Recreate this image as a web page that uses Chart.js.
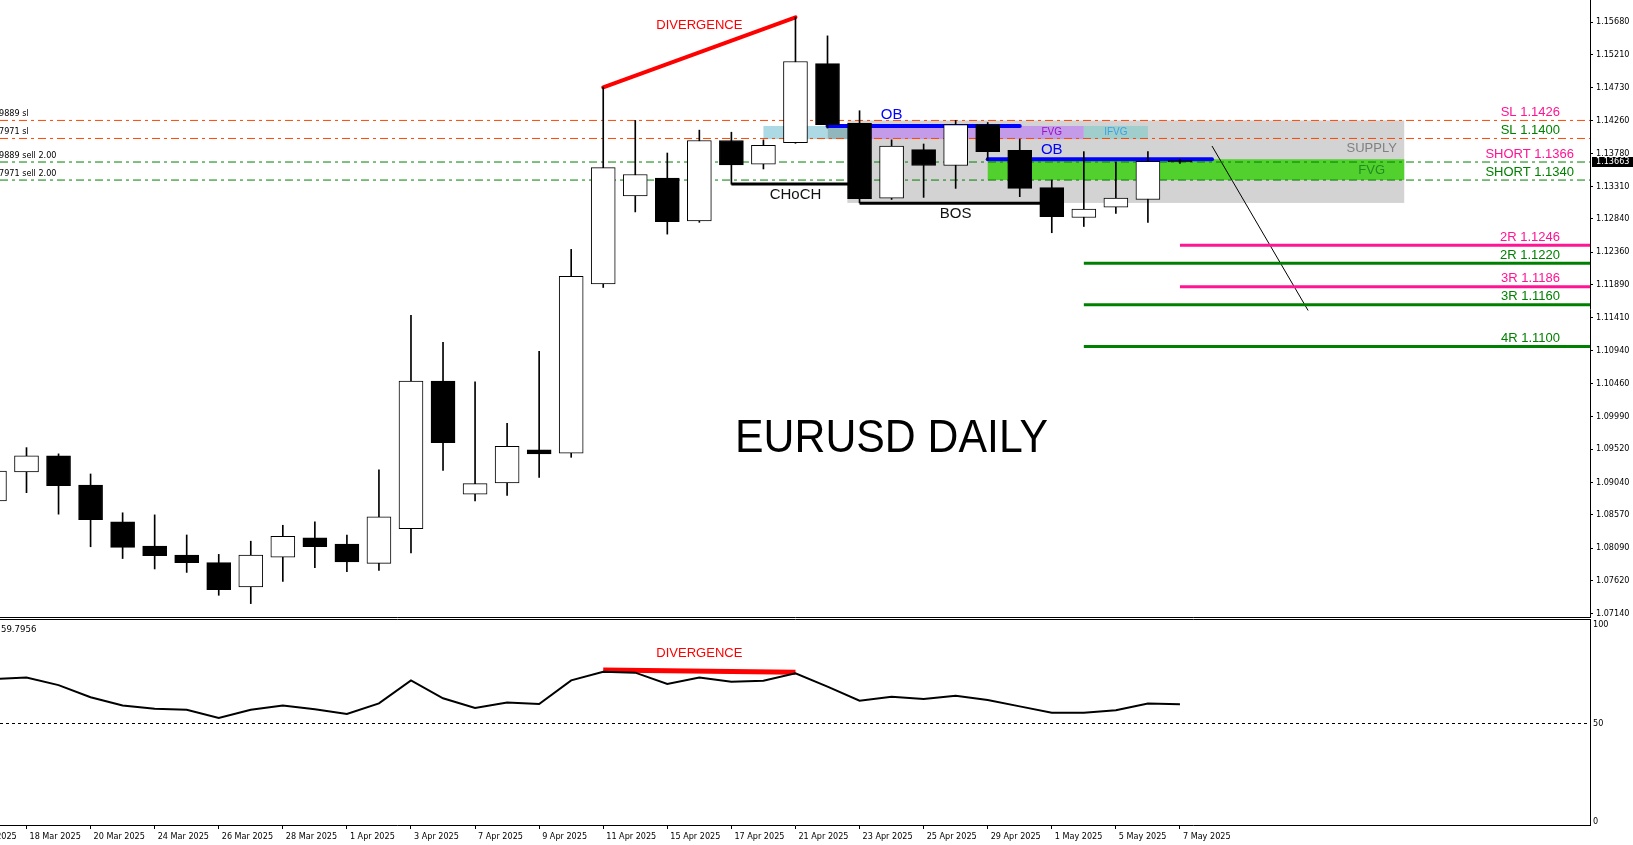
<!DOCTYPE html>
<html lang="en">
<head>
<meta charset="UTF-8">
<title>EURUSD Daily</title>
<style>
  html, body { margin: 0; padding: 0; background: #fff; overflow: hidden; }
  #wrap { position: relative; width: 1633px; height: 845px; }
  #priceChart { position: absolute; left: 0; top: 0; }
  #rsiChart { position: absolute; left: 0; top: 618px; }
</style>
</head>
<body>
<div id="wrap">
  <canvas id="priceChart" width="1633" height="618"></canvas>
  <canvas id="rsiChart" width="1633" height="227"></canvas>
</div>

<script src="https://cdn.jsdelivr.net/npm/chart.js"></script>
<script>
  // daily bars, 17 Mar .. 7 May 2025 (x value = position in this list)
  const days = ['17 Mar', '18 Mar', '19 Mar', '20 Mar', '21 Mar', '24 Mar', '25 Mar', '26 Mar', '27 Mar', '28 Mar',
    '31 Mar', '1 Apr', '2 Apr', '3 Apr', '4 Apr', '7 Apr', '8 Apr', '9 Apr', '10 Apr', '11 Apr',
    '14 Apr', '15 Apr', '16 Apr', '17 Apr', '18 Apr', '21 Apr', '22 Apr', '23 Apr', '24 Apr', '25 Apr',
    '28 Apr', '29 Apr', '30 Apr', '1 May', '2 May', '5 May', '6 May', '7 May'];
  const opens = [1.0877, 1.0919, 1.0942, 1.0900, 1.0847, 1.0812, 1.0799, 1.0788, 1.0753, 1.0796,
    1.0824, 1.0815, 1.0787, 1.0837, 1.1050, 1.0887, 1.0903, 1.0951, 1.0946, 1.1190,
    1.1317, 1.1343, 1.1281, 1.1397, 1.1363, 1.1394, 1.1508, 1.1422, 1.1314, 1.1384,
    1.1361, 1.1420, 1.1383, 1.1329, 1.1286, 1.1301, 1.1312, 1.1368];
  const highs = [1.0950, 1.0954, 1.0945, 1.0916, 1.0860, 1.0857, 1.0828, 1.0800, 1.0819, 1.0842,
    1.0847, 1.0828, 1.0922, 1.1145, 1.1106, 1.1049, 1.0989, 1.1093, 1.1240, 1.1474,
    1.1426, 1.1379, 1.1412, 1.1409, 1.1398, 1.1575, 1.1548, 1.1440, 1.1398, 1.1392,
    1.1426, 1.1423, 1.1399, 1.1340, 1.1381, 1.1366, 1.1381, 1.1370];
  const lows = [1.0870, 1.0889, 1.0858, 1.0811, 1.0794, 1.0779, 1.0774, 1.0741, 1.0729, 1.0761,
    1.0781, 1.0775, 1.0777, 1.0802, 1.0921, 1.0877, 1.0885, 1.0911, 1.0940, 1.1185,
    1.1294, 1.1262, 1.1279, 1.1334, 1.1356, 1.1393, 1.1415, 1.1307, 1.1312, 1.1315,
    1.1328, 1.1369, 1.1316, 1.1264, 1.1273, 1.1292, 1.1279, 1.1364];
  const closes = [1.0920, 1.0942, 1.0899, 1.0850, 1.0810, 1.0798, 1.0788, 1.0749, 1.0799, 1.0826,
    1.0811, 1.0789, 1.0854, 1.1050, 1.0961, 1.0902, 1.0956, 1.0945, 1.1201, 1.1358,
    1.1348, 1.1280, 1.1397, 1.1362, 1.1390, 1.1511, 1.1420, 1.1313, 1.1389, 1.1361,
    1.1420, 1.1381, 1.1328, 1.1287, 1.1298, 1.1314, 1.1367, 1.13663];
  const rsi = [72.6, 73.3, 69.5, 63.3, 59.1, 57.5, 57.0, 52.8, 57.0, 59.1,
    57.2, 54.8, 60.2, 71.9, 62.8, 57.9, 60.6, 59.9, 71.9, 76.3,
    75.8, 70.1, 73.3, 71.2, 71.7, 75.5, 68.7, 61.6, 63.6, 62.4,
    64.1, 61.9, 58.7, 55.5, 55.5, 56.7, 60.1, 59.7956];

  const xTickPos = [-1, 1, 3, 5, 7, 9, 11, 13, 15, 17, 19, 21, 23, 25, 27, 29, 31, 33, 35, 37];
  const xTickLabels = ['14 Mar 2025', '18 Mar 2025', '20 Mar 2025', '24 Mar 2025', '26 Mar 2025', '28 Mar 2025',
    '1 Apr 2025', '3 Apr 2025', '7 Apr 2025', '9 Apr 2025', '11 Apr 2025', '15 Apr 2025', '17 Apr 2025',
    '21 Apr 2025', '23 Apr 2025', '25 Apr 2025', '29 Apr 2025', '1 May 2025', '5 May 2025', '7 May 2025'];
  const priceTicks = [1.15680, 1.15210, 1.14730, 1.14260, 1.13780, 1.13310, 1.12840, 1.12360, 1.11890, 1.11410,
    1.10940, 1.10460, 1.09990, 1.09520, 1.09040, 1.08570, 1.08090, 1.07620, 1.07140];
  const rsiTicks = [0, 50, 100];

  // trade levels
  const levelPrices = [1.1426, 1.1400, 1.1366, 1.1340];
  const levelNames = ['SL 1.1426', 'SL 1.1400', 'SHORT 1.1366', 'SHORT 1.1340'];
  const orderTags = ['9889 sl', '7971 sl', '9889 sell 2.00', '7971 sell 2.00'];
  const targetPrices = [1.1246, 1.1220, 1.1186, 1.1160, 1.1100];
  const targetNames = ['2R 1.1246', '2R 1.1220', '3R 1.1186', '3R 1.1160', '4R 1.1100'];
  const targetFrom = [37, 34, 37, 34, 34];

  // structure lines [bar, price]
  const divergenceLine = [[19, 1.14738], [25, 1.15748]];
  const obLine1 = [[26, 1.1418], [32, 1.1418]];
  const obLine2 = [[31, 1.1370], [38, 1.1370]];
  const chochLine = [[23, 1.13343], [27, 1.13343]];
  const bosLine = [[27, 1.13065], [33, 1.13065]];
  const projLine = [[38, 1.13891], [41, 1.11518]];
  const rsiDivergence = [[19, 77.2], [25, 76.0]];

  // zones
  const zoneFrom = [26.62, 31, 24, 26, 27, 34];
  const zoneTo = [44, 44, 26, 27, 34, 36];
  const zoneTop = [1.1426, 1.1370, 1.1418, 1.1418, 1.1418, 1.1418];
  const zoneBottom = [1.1307, 1.1340, 1.1399, 1.1399, 1.1399, 1.1399];
  const zoneColors = ['#d3d3d3', '#52d12e', '#acd9e3', '#91b6bb', '#c39be8', '#a0cecc'];

  // text notes [bar, price]
  const noteText = ['DIVERGENCE', 'OB', 'OB', 'CHoCH', 'BOS', 'FVG', 'IFVG', 'SUPPLY', 'FVG', 'EURUSD DAILY'];
  const noteX = [22, 28, 33, 25, 30, 33, 35, 43.77, 43.4, 28];
  const noteY = [1.15637, 1.14338, 1.13833, 1.13184, 1.1291, 1.14083, 1.14083, 1.13862, 1.13545, 1.09657];

  const X_MIN = 0.1729, X_MAX = 49.798;
  const P_MIN = 1.070822, P_MAX = 1.159974;
  const R_MIN = -1.523, R_MAX = 102.54;

  const AXIS_FONT = { family: '"DejaVu Sans Condensed", "DejaVu Sans", sans-serif', size: 9 };
  const LABEL_FONT = '"Liberation Sans", Arial, sans-serif';

  const noteStyle = [
    { color: '#ff0000', size: 13, align: 'center' },
    { color: '#0000ff', size: 15, align: 'center' },
    { color: '#0000ff', size: 15, align: 'center' },
    { color: '#111111', size: 15, align: 'center' },
    { color: '#111111', size: 15, align: 'center' },
    { color: '#9a10c8', size: 10, align: 'center' },
    { color: '#3aa0e6', size: 10, align: 'center' },
    { color: '#808080', size: 13, align: 'right' },
    { color: '#228b22', size: 13, align: 'right' },
    { color: '#000000', size: 46, align: 'center', stretch: 0.93 }
  ];
  const levelLineColors = ['#ff4500', '#ff4500', '#008000', '#008000'];
  const levelTextColors = ['#ff1493', '#008000', '#ff1493', '#008000'];
  const levelTextX = [48.86, 48.86, 49.3, 49.3];
  const targetColors = ['#ff1493', '#008000', '#ff1493', '#008000', '#008000'];

  const toXY = pts => pts.map(p => ({ x: p[0], y: p[1] }));
  function lineSet(pts, color, width, dash, cap) {
    return {
      type: 'line', data: toXY(pts), borderColor: color, borderWidth: width,
      borderDash: dash || [], borderCapStyle: cap || 'butt',
      pointRadius: 0, fill: false, tension: 0, order: 2
    };
  }

  const zonePlugin = {
    id: 'zones',
    beforeDatasetsDraw(chart) {
      const { ctx, chartArea, scales: { x, y } } = chart;
      ctx.save();
      ctx.beginPath();
      ctx.rect(chartArea.left, chartArea.top, chartArea.width, chartArea.height);
      ctx.clip();
      zoneFrom.forEach((f, n) => {
        const x0 = x.getPixelForValue(f), x1 = x.getPixelForValue(zoneTo[n]);
        const y0 = y.getPixelForValue(zoneTop[n]), y1 = y.getPixelForValue(zoneBottom[n]);
        ctx.fillStyle = zoneColors[n];
        ctx.fillRect(x0, y0, x1 - x0, y1 - y0);
      });
      ctx.restore();
    }
  };

  const notePlugin = {
    id: 'notes',
    afterDatasetsDraw(chart) {
      const { ctx, chartArea, scales: { x, y } } = chart;
      ctx.save();
      ctx.textBaseline = 'middle';
      noteText.forEach((t, n) => {
        const st = noteStyle[n];
        ctx.font = st.size + 'px ' + LABEL_FONT;
        ctx.fillStyle = st.color;
        ctx.textAlign = st.align;
        const px = x.getPixelForValue(noteX[n]), py = y.getPixelForValue(noteY[n]);
        if (st.stretch) {
          ctx.save();
          ctx.translate(px, py);
          ctx.scale(st.stretch, 1);
          ctx.fillText(t, 0, 0);
          ctx.restore();
        } else {
          ctx.fillText(t, px, py);
        }
      });
      ctx.font = '13px ' + LABEL_FONT;
      ctx.textAlign = 'right';
      levelNames.forEach((t, n) => {
        ctx.fillStyle = levelTextColors[n];
        ctx.fillText(t, x.getPixelForValue(levelTextX[n]), y.getPixelForValue(levelPrices[n]) - 8);
      });
      targetNames.forEach((t, n) => {
        ctx.fillStyle = targetColors[n];
        ctx.fillText(t, x.getPixelForValue(48.86), y.getPixelForValue(targetPrices[n]) - 8);
      });
      // order tags at the left edge
      ctx.font = AXIS_FONT.size + 'px ' + AXIS_FONT.family;
      ctx.textAlign = 'left';
      ctx.fillStyle = '#000';
      orderTags.forEach((t, n) => {
        ctx.fillText(t, chartArea.left - 1, y.getPixelForValue(levelPrices[n]) - 6.5);
      });
      ctx.restore();
    },
    afterDraw(chart) {
      const { ctx, chartArea, scales: { y } } = chart;
      ctx.save();
      ctx.strokeStyle = '#000';
      ctx.lineWidth = 1;
      ctx.beginPath();
      ctx.moveTo(0, chartArea.bottom - 0.5);
      ctx.lineTo(chartArea.right + 1, chartArea.bottom - 0.5);
      ctx.stroke();
      // current price box
      const last = closes[closes.length - 1];
      const py = y.getPixelForValue(last);
      ctx.fillStyle = '#000';
      ctx.fillRect(y.left + 2, Math.round(py) - 5, 43, 10);
      ctx.fillStyle = '#fff';
      ctx.font = AXIS_FONT.size + 'px ' + AXIS_FONT.family;
      ctx.textAlign = 'left';
      ctx.textBaseline = 'middle';
      ctx.fillText(last.toFixed(5), y.left + 6, py);
      ctx.restore();
    }
  };

  const bodies = days.map((d, k) => ({ x: k, y: [opens[k], closes[k]] }));
  const wicks = days.map((d, k) => ({ x: k, y: [lows[k], highs[k]] }));
  const bodyFill = days.map((d, k) => closes[k] >= opens[k] ? '#ffffff' : '#000000');

  const priceDatasets = [
    { type: 'bar', data: bodies, backgroundColor: bodyFill, borderColor: '#000', borderWidth: 1,
      borderSkipped: false, barThickness: 24, grouped: false, order: 0 },
    { type: 'bar', data: wicks, backgroundColor: '#000', borderWidth: 0,
      barThickness: 1, grouped: false, order: 1 }
  ];
  levelPrices.forEach((p, n) => {
    priceDatasets.push(lineSet([[X_MIN, p], [X_MAX, p]], levelLineColors[n], 1, [8, 4, 3, 4]));
  });
  targetPrices.forEach((p, n) => {
    priceDatasets.push(lineSet([[targetFrom[n], p], [X_MAX, p]], targetColors[n], 3));
  });
  priceDatasets.push(lineSet(divergenceLine, '#ff0000', 4, null, 'round'));
  priceDatasets.push(lineSet(obLine1, '#0000ff', 4, null, 'round'));
  priceDatasets.push(lineSet(obLine2, '#0000ff', 4, null, 'round'));
  priceDatasets.push(lineSet(chochLine, '#000000', 3));
  priceDatasets.push(lineSet(bosLine, '#000000', 3));
  priceDatasets.push(lineSet(projLine, '#000000', 1));

  new Chart(document.getElementById('priceChart'), {
    type: 'bar',
    data: { datasets: priceDatasets },
    plugins: [zonePlugin, notePlugin],
    options: {
      responsive: false,
      animation: false,
      events: [],
      layout: { padding: 0 },
      plugins: { legend: { display: false }, tooltip: { enabled: false } },
      scales: {
        x: { type: 'linear', min: X_MIN, max: X_MAX, offset: false, display: false },
        y: {
          type: 'linear', position: 'right', min: P_MIN, max: P_MAX, beginAtZero: false,
          afterBuildTicks: s => { s.ticks = priceTicks.map(v => ({ value: v })); },
          afterFit: s => { s.width = 43; s.paddingTop = 0; s.paddingBottom = 0; },
          ticks: { autoSkip: false, padding: 3, color: '#000', font: AXIS_FONT, callback: v => v.toFixed(5) },
          grid: { drawOnChartArea: false, tickLength: 3, color: '#000' },
          border: { display: true, color: '#000' }
        }
      }
    }
  });

  const rsiPlugin = {
    id: 'rsiNotes',
    afterDraw(chart) {
      const { ctx, chartArea, scales: { x, y } } = chart;
      ctx.save();
      ctx.strokeStyle = '#000';
      ctx.lineWidth = 1;
      ctx.beginPath();
      ctx.moveTo(0, chartArea.top - 0.5);
      ctx.lineTo(chartArea.right + 1, chartArea.top - 0.5);
      ctx.stroke();
      ctx.textBaseline = 'middle';
      ctx.textAlign = 'left';
      ctx.fillStyle = '#000';
      ctx.font = '9.5px ' + AXIS_FONT.family;
      ctx.fillText(rsi[rsi.length - 1].toFixed(4), 1, chartArea.top + 10);
      ctx.textAlign = 'center';
      ctx.fillStyle = '#ff0000';
      ctx.font = '13px ' + LABEL_FONT;
      ctx.fillText('DIVERGENCE', x.getPixelForValue(22), y.getPixelForValue(85.8));
      ctx.restore();
    }
  };

  new Chart(document.getElementById('rsiChart'), {
    type: 'line',
    data: {
      datasets: [
        { data: days.map((d, k) => ({ x: k, y: rsi[k] })), borderColor: '#000', borderWidth: 2,
          pointRadius: 0, tension: 0, fill: false, order: 0 },
        { data: toXY(rsiDivergence), borderColor: '#ff0000', borderWidth: 5,
          pointRadius: 0, tension: 0, fill: false, order: 1 },
        { data: toXY([[X_MIN, 50], [X_MAX, 50]]), borderColor: '#000', borderWidth: 1, borderDash: [3, 3],
          pointRadius: 0, tension: 0, fill: false, order: 2 }
      ]
    },
    plugins: [rsiPlugin],
    options: {
      responsive: false,
      animation: false,
      events: [],
      layout: { padding: { top: 2 } },
      plugins: { legend: { display: false }, tooltip: { enabled: false } },
      scales: {
        x: {
          type: 'linear', min: X_MIN, max: X_MAX, offset: false,
          afterBuildTicks: s => { s.ticks = xTickPos.map(v => ({ value: v })); },
          afterFit: s => { s.height = 20; s.paddingLeft = 0; s.paddingRight = 0; },
          ticks: {
            autoSkip: false, maxRotation: 0, minRotation: 0, align: 'start', labelOffset: 3, padding: 2,
            color: '#000', font: AXIS_FONT, callback: (v, i) => xTickLabels[i]
          },
          grid: { drawOnChartArea: false, tickLength: 4, color: '#000' },
          border: { display: true, color: '#000' }
        },
        y: {
          type: 'linear', position: 'right', min: R_MIN, max: R_MAX,
          afterBuildTicks: s => { s.ticks = rsiTicks.map(v => ({ value: v })); },
          afterFit: s => { s.width = 43; s.paddingTop = 0; s.paddingBottom = 0; },
          ticks: { autoSkip: false, padding: 3, color: '#000', font: AXIS_FONT },
          grid: { display: false, drawTicks: false },
          border: { display: true, color: '#000' }
        }
      }
    }
  });
</script>
</body>
</html>
